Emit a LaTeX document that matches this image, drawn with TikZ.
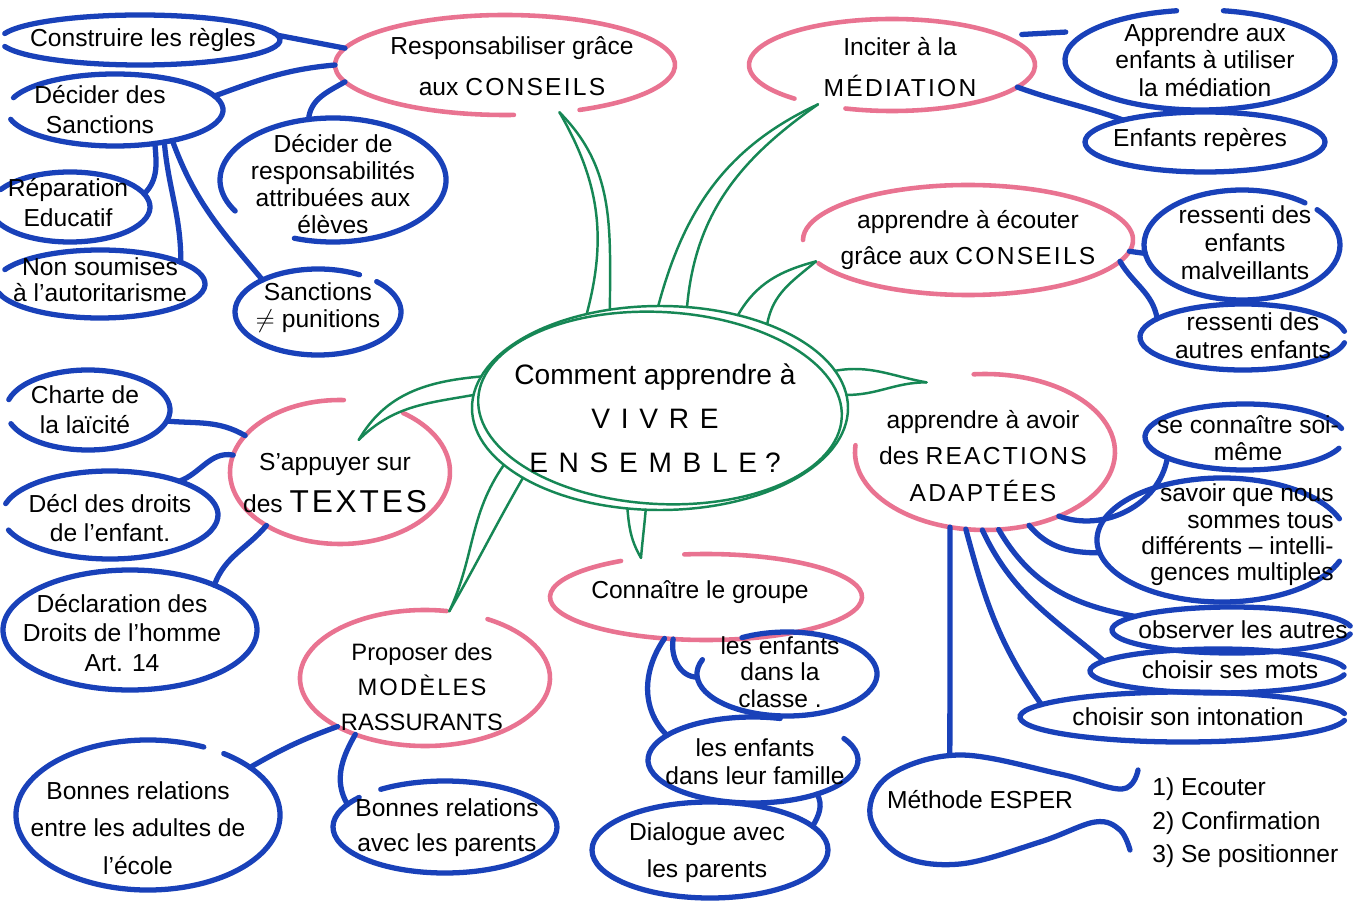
\documentclass[tikz,border=0pt]{standalone}
\usepackage{fontspec}
\setmainfont{Liberation Sans}
\newfontfamily\capsA[LetterSpace=9]{Liberation Sans}
\newfontfamily\capsB[LetterSpace=38]{Liberation Sans}
\usetikzlibrary{shapes.geometric}
\definecolor{penblue}{RGB}{25,65,185}
\definecolor{penpink}{RGB}{233,115,145}
\definecolor{pengreen}{RGB}{22,135,85}
% outline of a bubble: style, node, rx(px), ry(px), start angle, end angle
\newcommand\outl[6]{%
  \pgfmathsetlengthmacro\olrx{#3*0.02cm}%
  \pgfmathsetlengthmacro\olry{#4*0.02cm}%
  \draw[#1] (#2.center) ++({#5}:{\olrx} and {\olry}) arc[start angle=#5, end angle=#6, x radius=\olrx, y radius=\olry];}
\begin{document}
\begin{tikzpicture}[x=0.02cm,y=-0.02cm,
  blu/.style={draw=penblue,line width=3pt,line cap=round},
  pnk/.style={draw=penpink,line width=2.6pt,line cap=round},
  grn/.style={draw=pengreen,line width=1.4pt,line cap=round},
  bub/.style 2 args={ellipse,draw=none,inner sep=0pt,outer sep=0pt,minimum width=#1*0.04cm,minimum height=#2*0.04cm},
  tx/.style={align=center,inner sep=0pt,font=\fontsize{14}{#1}\selectfont},
  tx/.default=17,
  ctx/.style={align=center,inner sep=0pt,font=\fontsize{16}{25}\selectfont}]
\fill[white] (0,0) rectangle (1359,905);
\useasboundingbox (0,0) rectangle (1359,905);

% ---------- centre ----------
\node[bub={188}{102}] (cen) at (660,408) {};
\outl{grn}{cen}{188}{102}{0}{360}
\outl{grn,rotate around={-3:(cen.center)}}{cen}{182}{96}{0}{360}
\node[ctx] (cen-t) at (655,418) {Comment apprendre à\\{\capsB VIVRE}\\{\capsB ENSEMBLE} ?};

% ---------- pink main ideas ----------
\node[bub={170}{50}] (resp) at (505,65) {};
\outl{pnk}{resp}{170}{50}{-64}{273}
\node[tx=23] (resp-t) at (512,66) {Responsabiliser grâce\\aux {\capsA CONSEILS}};

\node[bub={143}{46}] (med) at (892,65) {};
\outl{pnk}{med}{143}{46}{251}{587}
\node[tx=23] (med-t) at (900,67) {Inciter à la\\{\capsA MÉDIATION}};

\node[bub={165}{55}] (ecou) at (968,240) {};
\outl{pnk}{ecou}{165}{55}{205}{540}
\node[tx=20] (ecou-t) at (968,240) {apprendre à écouter\\grâce aux {\capsA CONSEILS}};

\node[bub={130}{78}] (reac) at (985,452) {};
\outl{pnk}{reac}{130}{78}{175}{455}
\node[tx=21] (reac-t) at (983,456) {apprendre à avoir\\des {\capsA REACTIONS}\\{\capsA ADAPTÉES}};

\node[bub={110}{72}] (txt) at (340,472) {};
\outl{pnk}{txt}{110}{72}{88}{415}
\node[tx=24] (txt-t) at (335,483) {S'appuyer sur\\des {\fontsize{18}{18}\selectfont\capsA TEXTES}};

\node[bub={156}{43}] (grp) at (706,597) {};
\outl{pnk}{grp}{156}{43}{123}{458}
\node[tx] (grp-t) at (700,592) {Connaître le groupe};

\node[bub={125}{68}] (mod) at (425,678) {};
\outl{pnk}{mod}{125}{68}{80}{420}
\node[tx=20,font=\fontsize{13.5}{20}\selectfont] (mod-t) at (422,687) {Proposer des\\{\capsA MODÈLES}\\RASSURANTS};

% ---------- green branches ----------
\draw[grn] (resp.-41) to[out=-60,in=75] (cen.128);
\draw[grn] (resp.-41) to[out=-45,in=90] (cen.117);
\draw[grn] (med.208) to[out=205,in=75] (cen.91);
\draw[grn] (med.208) to[out=215,in=85] (cen.75);
\draw[grn] (ecou.188) to[out=195,in=60] (cen.50);
\draw[grn] (ecou.188) to[out=220,in=80] (cen.38);
\draw[grn] (reac.130) to[out=170,in=10] (cen.12);
\draw[grn] (reac.130) to[out=180,in=0] (cen.4);
\draw[grn] ([shift={(-12,37)}]txt.66) to[out=60,in=185] (cen.170);
\draw[grn] ([shift={(-12,37)}]txt.66) to[out=45,in=190] (cen.176);
\draw[grn] (mod.70) to[out=65,in=235] (cen.200);
\draw[grn] (mod.70) to[out=60,in=240] (cen.207);
\draw[grn] (grp.149) to[out=120,in=-85] (cen.252);
\draw[grn] (grp.149) to[out=85,in=-95] (cen.262);

% ---------- blue: Responsabiliser ----------
\node[bub={140}{25}] (constr) at (140,40) {};
\outl{blu}{constr}{140}{25}{165}{-165}
\node[tx] (constr-t) at (143,40) {Construire les règles};

\node[bub={108}{36}] (sanc) at (115,110) {};
\outl{blu}{sanc}{108}{36}{160}{-165}
\node[tx=17] (sanc-t) at (100,110) {Décider des\\Sanctions};

\node[bub={80}{35}] (repa) at (70,207) {};
\outl{blu}{repa}{80}{35}{150}{-160}
\node[tx=17] (repa-t) at (68,203) {Réparation\\Educatif};

\node[bub={105}{34}] (nons) at (100,284) {};
\outl{blu}{nons}{105}{34}{155}{-165}
\node[tx=15] (nons-t) at (100,280) {Non soumises\\à l'autoritarisme};

\node[bub={113}{62}] (decr) at (333,180) {};
\outl{blu}{decr}{113}{62}{-110}{210}
\node[tx=15.5] (decr-t) at (333,184) {Décider de\\responsabilités\\attribuées aux\\élèves};

\node[bub={83}{43}] (sp) at (318,312) {};
\outl{blu}{sp}{83}{43}{60}{405}
\node[tx=15.5] (sp-t) at (318,308) {Sanctions\\$\neq$ punitions};

\draw[blu] (resp.174) -- (constr.2);
\draw[blu] (resp.180) to[out=185,in=20] (sanc.8);
\draw[blu] (resp.186) to[out=210,in=85] (decr.112);
\draw[blu] (sanc.-40) to[out=-85,in=45] (repa.10);
\draw[blu] (sanc.-33) to[out=-85,in=90] (nons.15);
\draw[blu] (sanc.-28) to[out=-70,in=130] (sp.150);

% ---------- blue: Médiation ----------
\node[bub={135}{50}] (appr) at (1200,60) {};
\outl{blu}{appr}{135}{50}{100}{440}
\node[tx=15.5] (appr-t) at (1205,60) {Apprendre aux\\enfants à utiliser\\la médiation};

\node[bub={120}{30}] (rep) at (1205,142) {};
\outl{blu}{rep}{120}{30}{0}{360}
\node[tx] (rep-t) at (1200,140) {Enfants repères};

\draw[blu,shorten <=0.4cm,shorten >=0.5cm] (med.15) -- (appr.165);
\draw[blu] (med.-10) to[out=-20,in=160] (rep.165);

% ---------- blue: écouter ----------
\node[bub={98}{55}] (malv) at (1242,245) {};
\outl{blu}{malv}{98}{55}{50}{400}
\node[tx=16] (malv-t) at (1245,243) {ressenti des\\enfants\\malveillants};

\node[bub={103}{33}] (autr) at (1243,337) {};
\outl{blu}{autr}{103}{33}{10}{350}
\node[tx=16] (autr-t) at (1253,336) {ressenti des\\autres enfants};

\draw[blu] (ecou.-4) -- (malv.185);
\draw[blu] (ecou.-8) to[out=-60,in=100] (autr.168);

% ---------- blue: réactions ----------
\node[bub={100}{33}] (conn) at (1245,437) {};
\outl{blu}{conn}{100}{33}{15}{340}
\node[tx=15.5] (conn-t) at (1248,438) {se connaître soi-\\même};

\node[bub={125}{62}] (savoir) at (1222,540) {};
\outl{blu}{savoir}{125}{62}{20}{340}
\node[tx=15,align=right,anchor=east] (savoir-t) at (1334,535) {savoir que nous\\sommes tous\\différents – intelli-\\gences multiples};

\node[bub={120}{23}] (obs) at (1232,630) {};
\outl{blu}{obs}{120}{23}{10}{350}
\node[tx] (obs-t) at (1243,630) {observer les autres};

\node[bub={128}{22}] (mots) at (1218,671) {};
\outl{blu}{mots}{128}{22}{10}{350}
\node[tx] (mots-t) at (1230,670) {choisir ses mots};

\node[bub={163}{25}] (inton) at (1183,717) {};
\outl{blu}{inton}{163}{25}{8}{352}
\node[tx] (inton-t) at (1188,717) {choisir son intonation};

\node[bub={90}{58}] (esper) at (960,812) {};
\draw[blu] plot[smooth,tension=0.6] coordinates {(1138,770) (1122,789) (1060,774) (960,755) (890,775) (870,815) (900,855) (960,864) (1040,842) (1095,822) (1120,830) (1130,850)};
\node[tx] (esper-t) at (980,800) {Méthode ESPER};
\node[tx=19,align=left,anchor=west] (steps) at (1152,823) {1) Ecouter\\2) Confirmation\\3) Se positionner};

\draw[blu] (reac.-41) to[out=-20,in=-100] (conn.195);
\draw[blu] (reac.-59) to[out=-50,in=180] (savoir.186);
\draw[blu] (reac.-80) to[out=-60,in=170] (obs.172);
\draw[blu] (reac.-92) to[out=-65,in=140] (mots.175);
\draw[blu] (reac.-104) to[out=-75,in=125] (inton.175);
\draw[blu] (reac.-115) -- (esper.100);

% ---------- blue: textes ----------
\node[bub={82}{40}] (charte) at (88,410) {};
\outl{blu}{charte}{82}{40}{165}{-160}
\node[tx=17] (charte-t) at (85,410) {Charte de\\la laïcité};

\node[bub={108}{44}] (decl) at (110,515) {};
\outl{blu}{decl}{108}{44}{165}{-160}
\node[tx=17] (decl-t) at (110,518) {Décl des droits\\de l'enfant.};

\node[bub={127}{60}] (dh) at (130,630) {};
\outl{blu}{dh}{127}{60}{0}{360}
\node[tx=17] (dh-t) at (122,633) {Déclaration des\\Droits de l'homme\\Art. 14};

\draw[blu] (txt.159) to[out=150,in=-5] (charte.-8);
\draw[blu] (txt.171) to[out=170,in=20] (decl.26);
\draw[blu] (txt.216) to[out=230,in=70] (dh.28);

% ---------- blue: modèles ----------
\node[bub={132}{75}] (bra) at (148,815) {};
\outl{blu}{bra}{132}{75}{65}{415}
\node[tx=21.5] (bra-t) at (138,828) {Bonnes relations\\entre les adultes de\\l'école};

\node[bub={112}{46}] (brp) at (445,827) {};
\outl{blu}{brp}{112}{46}{140}{485}
\node[tx=20] (brp-t) at (447,828) {Bonnes relations\\avec les parents};

\draw[blu] (mod.209) to[out=200,in=30] (bra.25);
\draw[blu] (mod.219) to[out=240,in=120] (brp.167);

% ---------- blue: groupe ----------
\node[bub={90}{42}] (classe) at (787,674) {};
\outl{blu}{classe}{90}{42}{160}{480}
\node[tx=15] (classe-t) at (780,672) {les enfants\\dans la\\classe .};

\node[bub={105}{43}] (fam) at (753,760) {};
\outl{blu}{fam}{105}{43}{75}{390}
\node[tx=16] (fam-t) at (755,762) {les enfants\\dans leur famille};

\node[bub={118}{48}] (dial) at (710,850) {};
\outl{blu}{dial}{118}{48}{0}{360}
\node[tx=21] (dial-t) at (707,853) {Dialogue avec\\les parents};

\draw[blu] (grp.232) to[out=-100,in=180] (classe.182);
\draw[blu] (grp.225) to[out=235,in=135] (fam.164);
\draw[blu] (fam.-28) to[out=-60,in=60] (dial.13);
\end{tikzpicture}
\end{document}
